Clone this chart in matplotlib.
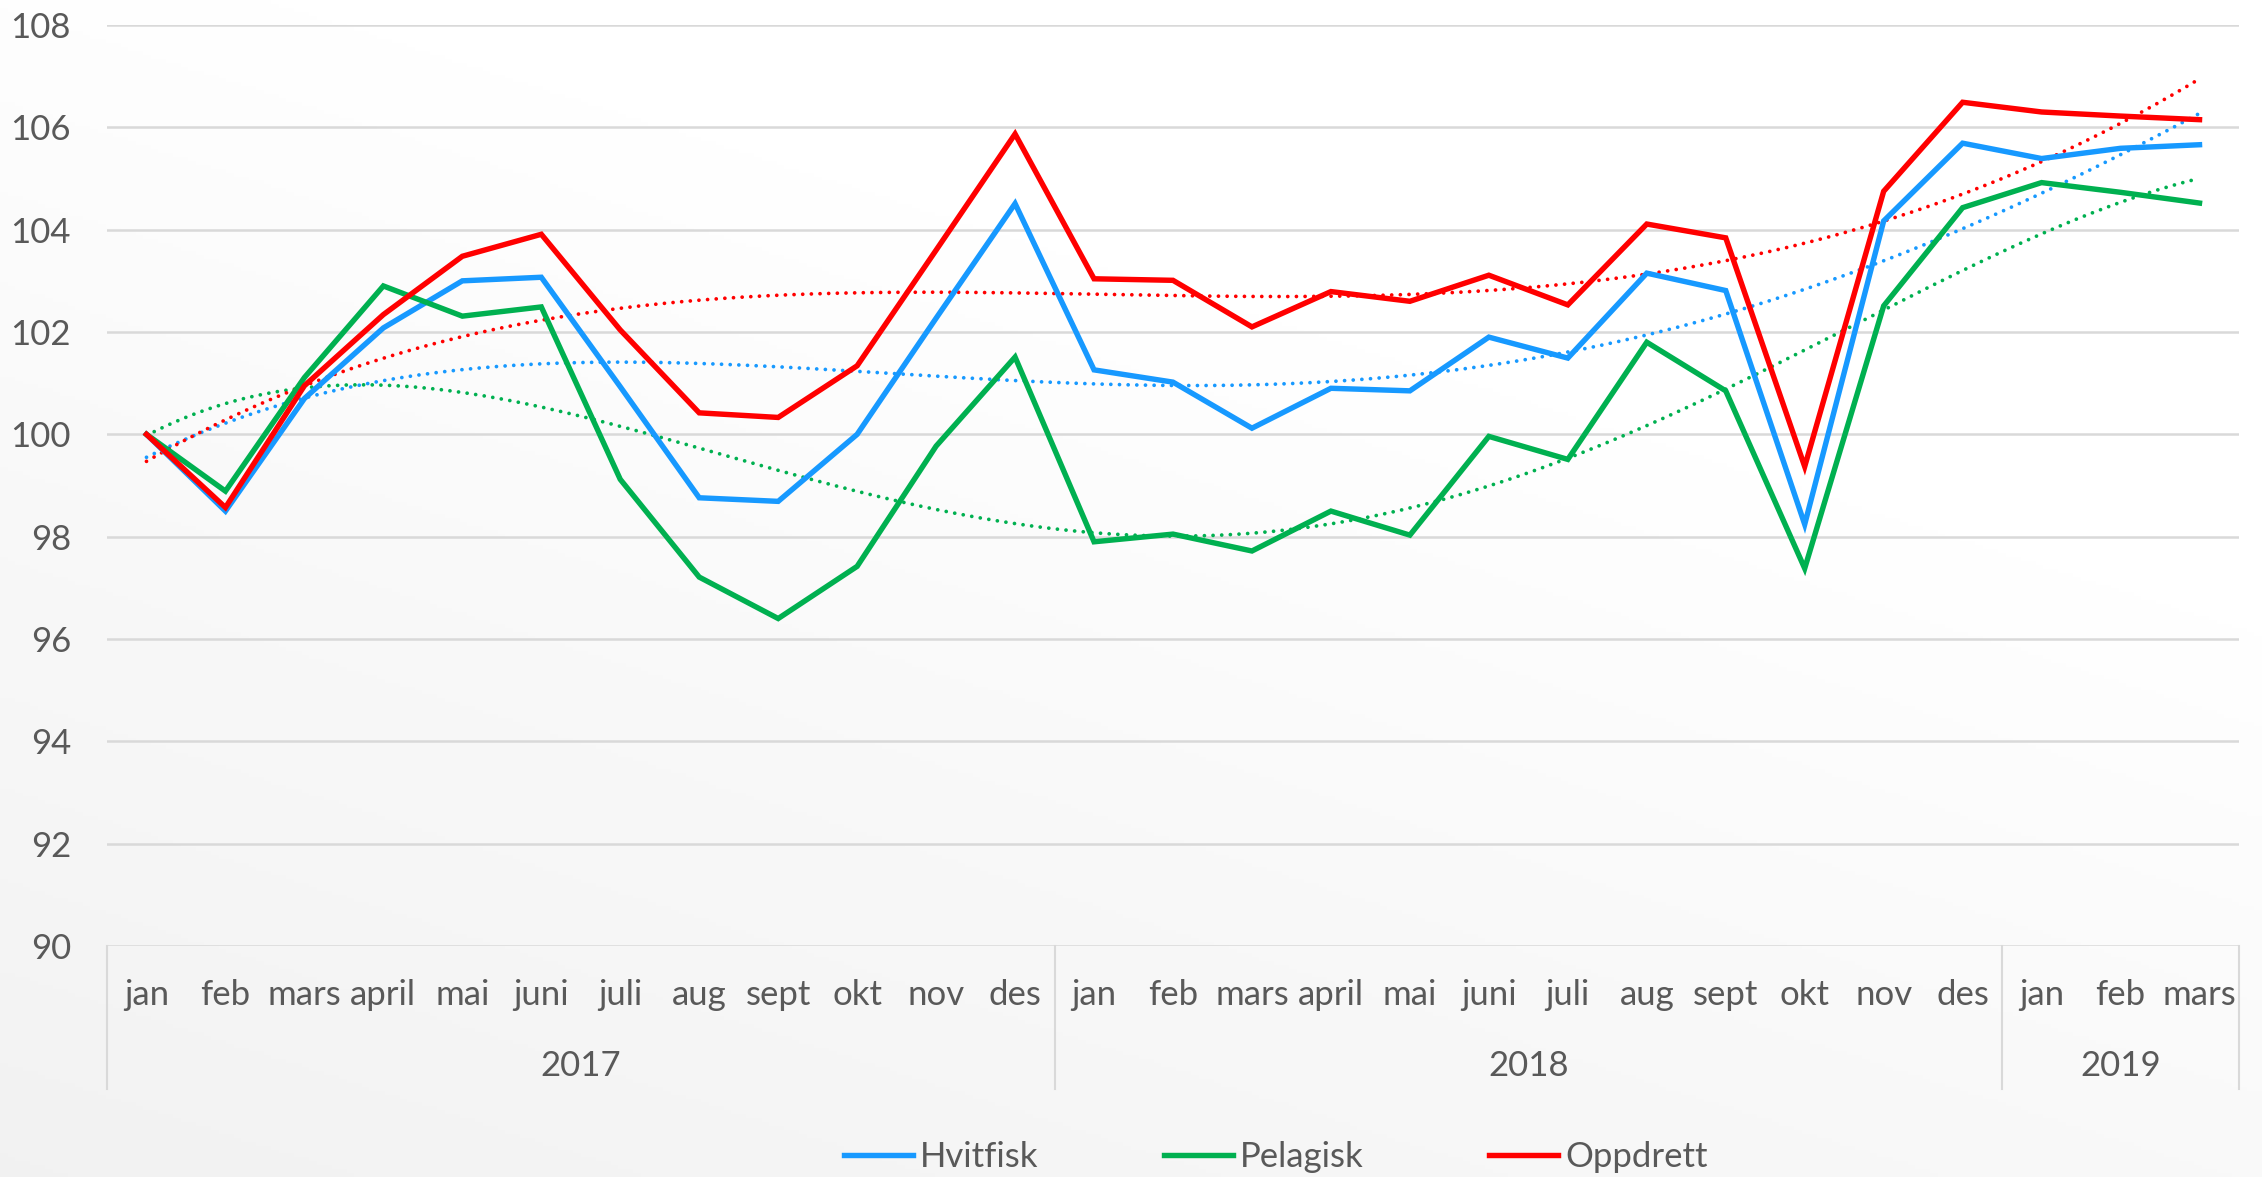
import matplotlib.pyplot as plt
import numpy as np

plt.rcParams['font.family'] = ['Lato', 'DejaVu Sans']

months = ['jan', 'feb', 'mars', 'april', 'mai', 'juni', 'juli', 'aug', 'sept', 'okt', 'nov', 'des',
          'jan', 'feb', 'mars', 'april', 'mai', 'juni', 'juli', 'aug', 'sept', 'okt', 'nov', 'des',
          'jan', 'feb', 'mars']
years = ['2017', '2018', '2019']
year_len = [12, 12, 3]

hvitfisk = [100.0, 98.5, 100.7, 102.08, 103.0, 103.07, 100.93, 98.76, 98.69, 100.0, 102.27, 104.51,
            101.26, 101.02, 100.12, 100.9, 100.85, 101.9, 101.49, 103.15, 102.81, 98.24, 104.17, 105.69,
            105.39, 105.59, 105.66]
pelagisk = [100.0, 98.89, 101.11, 102.9, 102.31, 102.49, 99.12, 97.21, 96.4, 97.42, 99.77, 101.51,
            97.9, 98.05, 97.72, 98.5, 98.03, 99.96, 99.51, 101.8, 100.85, 97.38, 102.51, 104.43,
            104.92, 104.73, 104.52]
oppdrett = [100.0, 98.57, 100.95, 102.34, 103.48, 103.91, 102.04, 100.42, 100.33, 101.34, 103.6, 105.87,
            103.04, 103.01, 102.1, 102.79, 102.6, 103.11, 102.53, 104.11, 103.84, 99.37, 104.75, 106.49,
            106.3, 106.22, 106.15]

series = [('Hvitfisk', hvitfisk, '#1799FF'),
          ('Pelagisk', pelagisk, '#00B050'),
          ('Oppdrett', oppdrett, '#FF0000')]

W, H = 2262, 1177
fig = plt.figure(figsize=(W / 100, H / 100), dpi=100)

# background gradient (light grey bottom-left to white top-right)
bg = fig.add_axes([0, 0, 1, 1], zorder=-1)
gx, gy = np.meshgrid(np.linspace(0, 1, 300), np.linspace(0, 1, 300))
g = np.clip((gx * 0.55 + (1 - gy) * 0.9), 0, 1)
bg.imshow(g, cmap='Greys_r', vmin=-8, vmax=1, aspect='auto', extent=[0, 1, 0, 1], origin='upper')
bg.axis('off')

ax = fig.add_axes([107 / W, 1 - 946 / H, 2132 / W, 921 / H])
ax.set_facecolor('none')
x = np.arange(len(months))

for name, vals, col in series:
    ax.plot(x, vals, color=col, lw=3.9, label=name, zorder=3, solid_joinstyle='miter')

# polynomial trendlines
xs = np.linspace(0, len(months) - 1, 300)
for name, vals, col in series:
    p = np.polyfit(x, vals, 4)
    ax.plot(xs, np.polyval(p, xs), color=col, lw=2.7, linestyle=(0, (0.01, 2.3)),
            dash_capstyle='round', zorder=2)

ax.set_xlim(-0.5, len(months) - 0.5)
ax.set_ylim(90, 108)
ax.set_yticks(np.arange(90, 109, 2))
ax.yaxis.grid(True, color='#d9d9d9', lw=1.8)
ax.set_axisbelow(True)
ax.tick_params(axis='y', length=0, pad=26, labelsize=25, labelcolor='#595959')
ax.set_xticks([])
for s in ['top', 'right', 'left', 'bottom']:
    ax.spines[s].set_visible(False)

tr = ax.get_xaxis_transform()
for i, m in enumerate(months):
    ax.text(i, -0.053, m, transform=tr, ha='center', va='center', fontsize=25, color='#595959')

start = 0
edges = [-0.5]
for yr, n in zip(years, year_len):
    ax.text(start + (n - 1) / 2, -0.130, yr, transform=tr, ha='center', va='center',
            fontsize=25, color='#595959')
    start += n
    edges.append(start - 0.5)
for e in edges:
    ax.plot([e, e], [0, -0.155], transform=tr, color='#d9d9d9', lw=1.5, clip_on=False)

leg = fig.legend(loc='center', bbox_to_anchor=(0.564, 1 - 1157 / H), ncol=3, frameon=False,
                 fontsize=25, handlelength=2.0, handletextpad=0.2, columnspacing=3.6)
for t in leg.get_texts():
    t.set_color('#595959')

fig.savefig('out.png', dpi=100)
